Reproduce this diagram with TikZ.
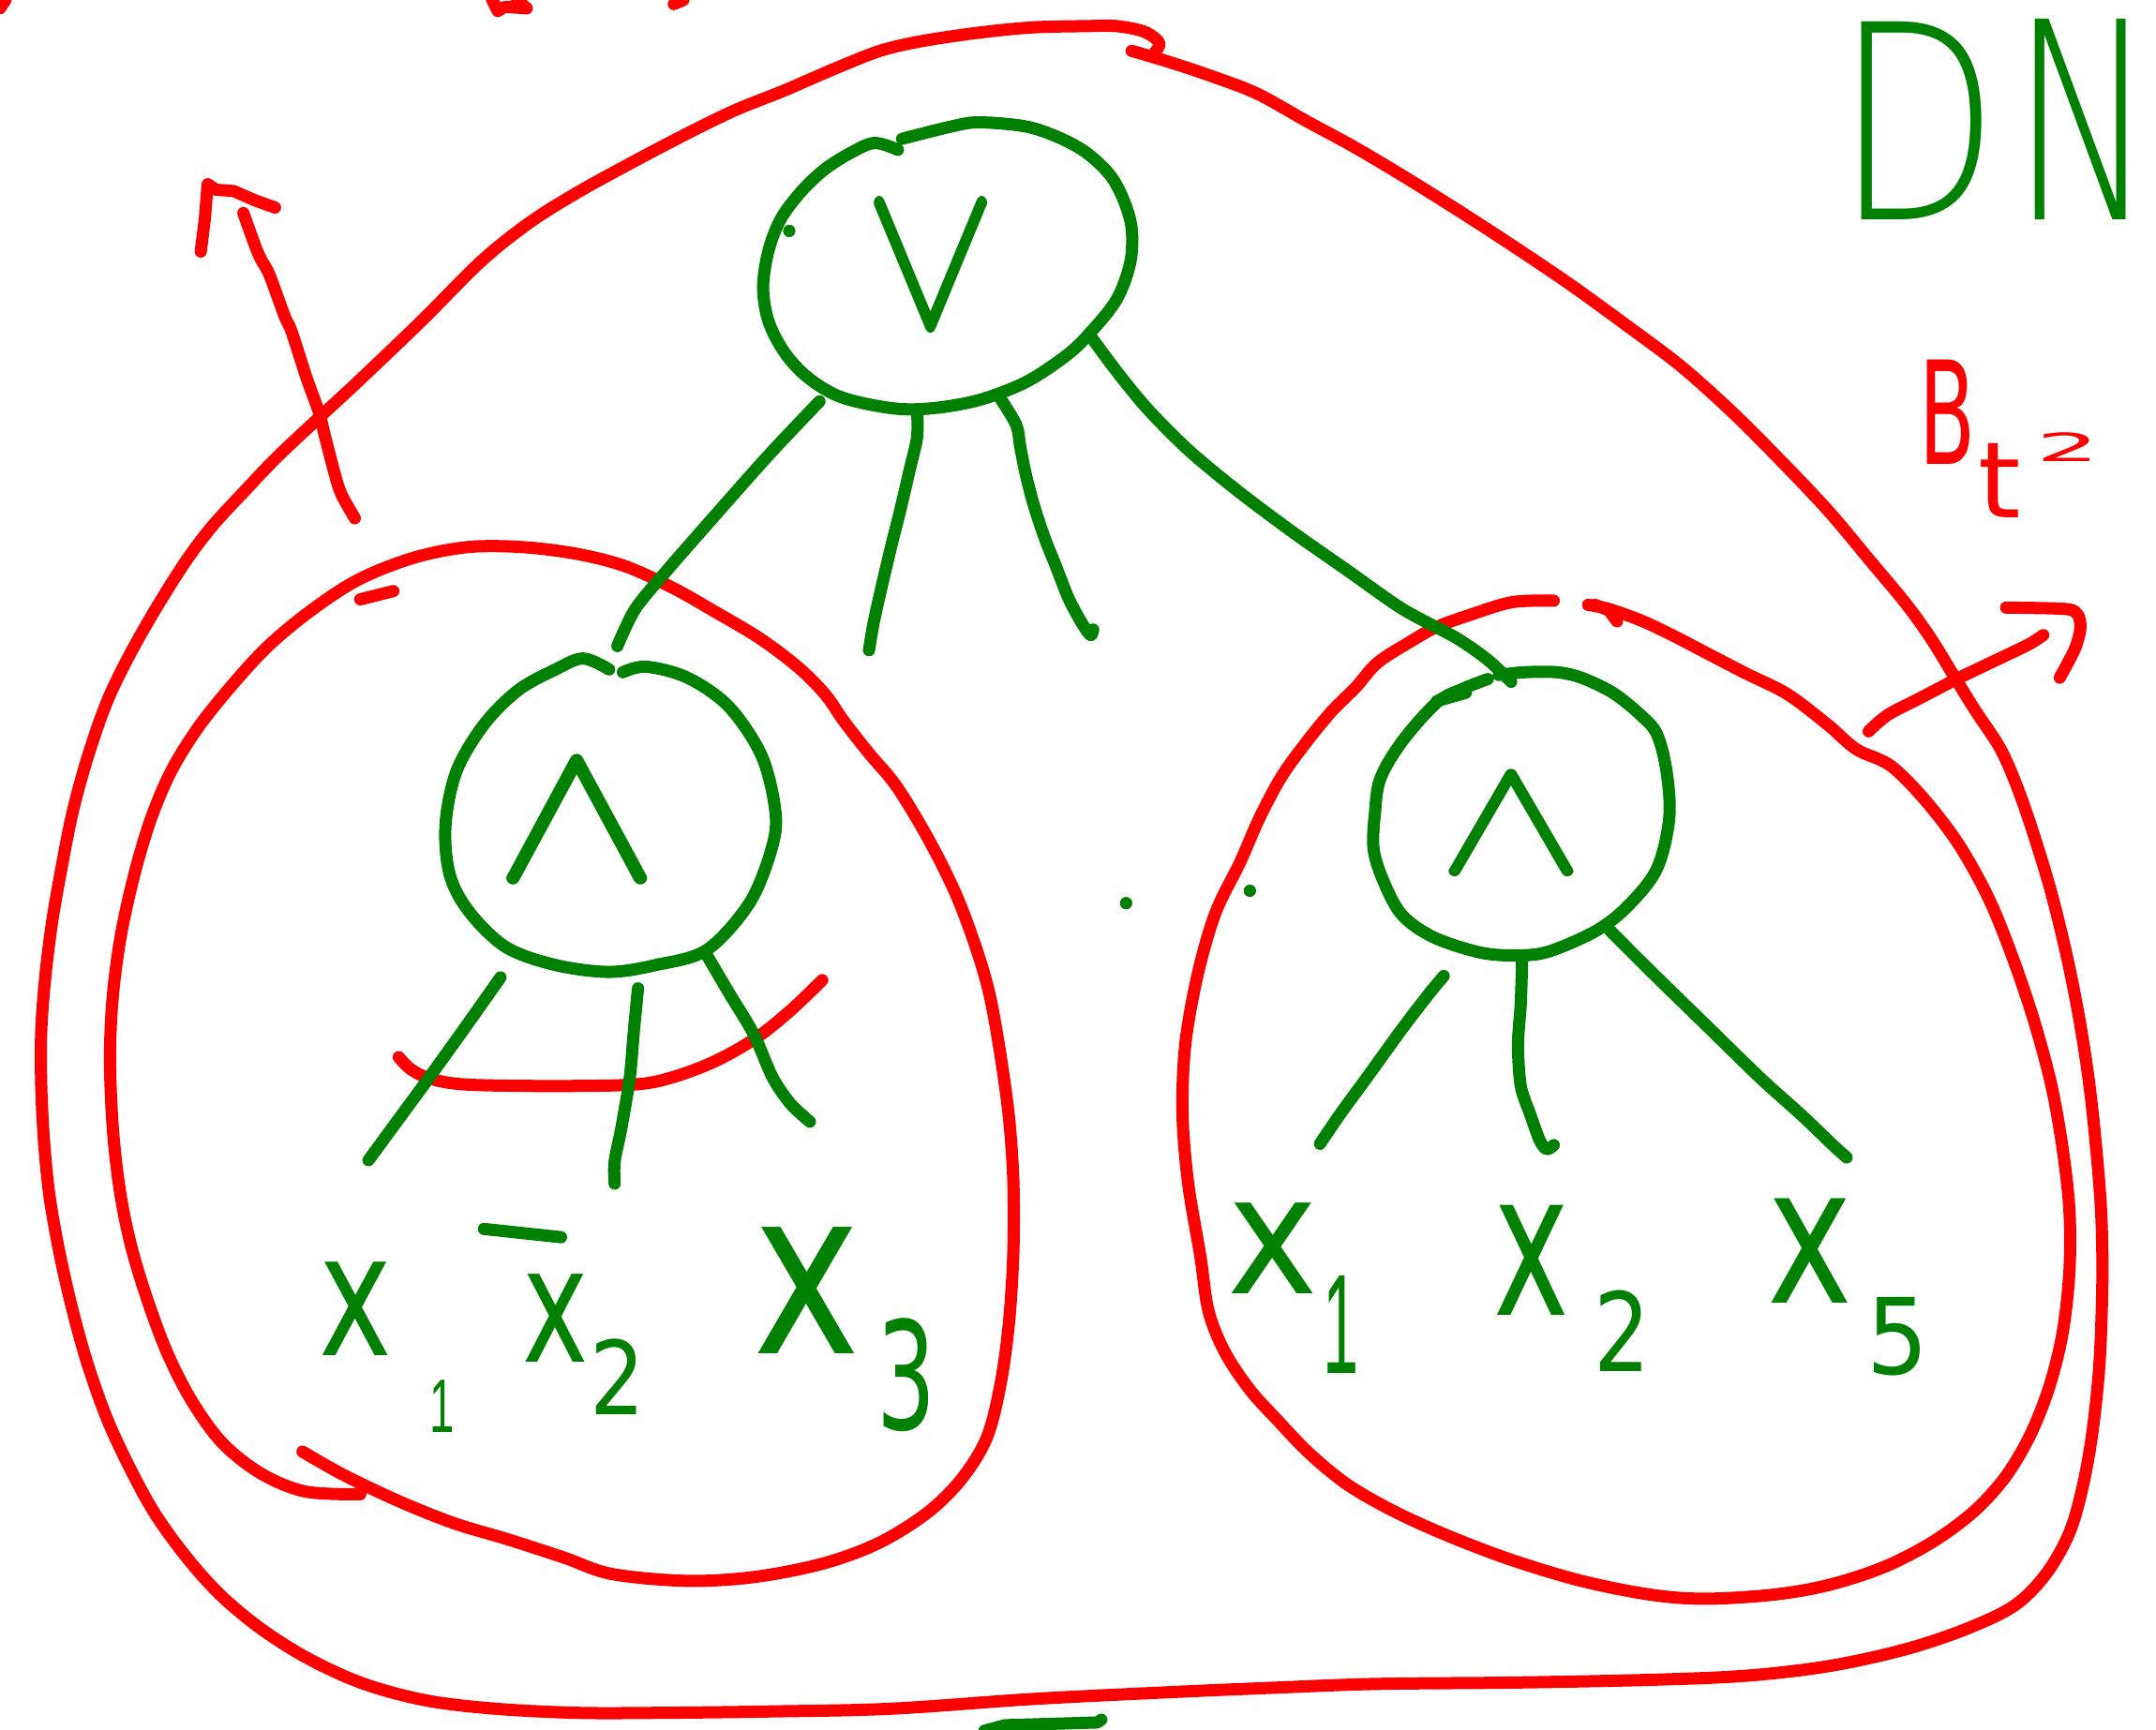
\documentclass[tikz,border=0pt]{standalone}
\usepackage{fontspec}
\setmainfont{DejaVu Sans}
\IfFontExistsTF{DejaVu Sans ExtraLight}
  {\newfontfamily\thinfont{DejaVu Sans ExtraLight}}
  {\newfontfamily\thinfont{DejaVu Sans}}
\newfontfamily\onefont{Liberation Sans}
\usepackage{graphicx}
\newlength\pu
\setlength\pu{0.014668cm}
\definecolor{penred}{RGB}{255,0,0}
\definecolor{pengreen}{RGB}{0,128,0}
\newcommand\fitg[3]{\resizebox{#1\pu}{#2\pu}{#3}}
\tikzset{
  redpen/.style={draw=penred, line width=3.7pt, line cap=round, line join=round},
  greenpen/.style={draw=pengreen, line width=3.7pt, line cap=round, line join=round},
  glyph/.style={inner sep=0pt, outer sep=0pt, text=pengreen},
  redglyph/.style={inner sep=0pt, outer sep=0pt, text=penred},
}
\begin{document}
\begin{tikzpicture}[x=\pu, y=-\pu]
\fill[white] (0,0) rectangle (1568,1258);
\useasboundingbox (0,0) rectangle (1568,1258);

% ---------------- red: outer loop ----------------
\draw[redpen] plot[smooth, tension=0.55] coordinates {
 (840,38) (843,31) (832,23) (812,19) (790,19) (750,20) (710,24) (670,30) (640,37)
 (607,50) (570,66) (535,80) (500,97) (460,118) (420,140) (385,162) (350,190)
 (307,233) (261,277) (234,302) (202,332) (180,355) (155,382) (136,407) (115,440)
 (95,475) (78,510) (64,550) (53,590) (45,630) (38,670) (33,710) (30,750) (30,790)
 (32,830) (36,870) (43,910) (52,950) (63,990) (77,1030) (93,1065) (112,1100)
 (135,1132) (160,1160) (190,1185) (225,1207) (265,1225) (310,1237) (360,1243)
 (420,1246) (480,1246) (560,1245) (648,1243) (750,1236) (850,1231) (920,1228)
 (1000,1225) (1100,1224) (1200,1222) (1270,1219) (1330,1212) (1385,1200)
 (1430,1185) (1465,1168) (1488,1145) (1505,1115) (1515,1080) (1522,1040)
 (1527,990) (1529,930) (1528,880) (1524,830) (1519,785) (1512,740) (1503,695)
 (1492,650) (1480,610) (1468,575) (1455,545) (1436,516) (1420,490) (1404,464)
 (1386,439) (1361,409) (1330,372) (1295,335) (1260,300) (1222,266) (1182,236)
 (1142,207) (1102,180) (1062,154) (1022,129) (985,107) (950,88) (914,68)
 (880,55) (850,45) (823,37)};

% ---------------- red: left inner loop ----------------
\draw[redpen] plot[smooth, tension=0.55] coordinates {
 (220,1056) (250,1073) (290,1092) (330,1108) (370,1120) (410,1133) (445,1145)
 (500,1150) (550,1147) (600,1137) (640,1122) (675,1100) (700,1075) (718,1045)
 (728,1005) (734,960) (737,910) (737,860) (734,815) (728,770) (720,725) (710,690)
 (695,650) (675,610) (652,572) (632,548) (614,525) (600,505) (580,485) (552,464)
 (520,445) (490,428) (455,412) (420,403) (380,398) (340,398) (300,406) (260,422)
 (225,445) (195,470) (170,497) (145,528) (125,560) (110,595) (98,635) (88,680)
 (82,725) (80,770) (82,820) (87,865) (95,905) (107,945) (122,985) (140,1020)
 (162,1050) (190,1072) (222,1085) (262,1087)};
\draw[redpen] (262,436) -- (286,430);

% ---------------- red: right inner loop ----------------
\draw[redpen] plot[smooth, tension=0.55] coordinates {
 (1130,437) (1100,438) (1070,447) (1045,456) (1027,466) (1002,482) (986,500)
 (968,518) (950,540) (932,565) (916,595) (902,627) (884,664) (871,709) (862,760)
 (860,810) (864,860) (873,914) (879,954) (891,984) (909,1011) (928,1032) (952,1057)
 (980,1080) (1015,1100) (1055,1118) (1100,1135) (1150,1150) (1200,1160) (1240,1163)
 (1290,1160) (1330,1153) (1370,1140) (1405,1122) (1435,1100) (1458,1075) (1476,1045)
 (1490,1010) (1500,970) (1505,925) (1505,880) (1500,835) (1492,790) (1480,745)
 (1465,700) (1447,655) (1425,615) (1400,582) (1375,557) (1350,545) (1329,527)
 (1300,505) (1270,490) (1241,475) (1220,464) (1195,452) (1170,443) (1155,440)};
\draw[redpen] (1160,440) -- (1170,444) -- (1176,452);

% ---------------- red: line under left AND ----------------
\draw[redpen] plot[smooth, tension=0.55] coordinates {
 (290,769) (299,778) (314,785) (340,789) (400,790) (460,789) (488,784) (520,772)
 (550,755) (575,735) (598,713)};

% ---------------- red: arrows ----------------
\draw[redpen] plot[smooth, tension=0.5] coordinates {
 (258,377) (248,359) (243,343) (236,316) (232,300) (223,275) (212,241) (207,230)
 (196,200) (190,189) (186,180) (177,155)};
\draw[redpen] (146,183) -- (149,159) -- (151,134) -- (157,138) -- (170,139)
  -- (186,146) -- (200,151);
\draw[redpen] plot[smooth, tension=0.5] coordinates {
 (1359,532) (1373,520) (1398,507) (1423,494) (1450,481) (1475,469) (1486,462)};
\draw[redpen] plot[smooth, tension=0.5] coordinates {
 (1459,442) (1502,443) (1511,447) (1513,457) (1509,472) (1498,493)};

% ---------------- red: fragments at the top edge ----------------
\draw[redpen] (0,6) -- (4,0);
\draw[redpen] (358,0) -- (362,8) -- (367,5) -- (383,6);
\draw[redpen] (376,0) -- (383,6);
\draw[redpen] (490,3) -- (497,0);

% ---------------- red: label B_t^2 ----------------
\node[redglyph] (lblB) at (1416.5,300) {\fitg{41}{76}{B}};
\node[redglyph] (lblt) at (1454.5,350) {\fitg{31}{54}{t}};
\node[redglyph] (lbl2) at (1504,325.5) {\fitg{46}{21}{2}};

% ---------------- green: DN ----------------
\node[glyph] (lblD) at (1395,88) {\fitg{119}{144}{\thinfont D}};
\node[glyph] (lblN) at (1515,87) {\fitg{104}{146}{\thinfont N}};

% ---------------- green: OR node ----------------
\draw[greenpen] plot[smooth, tension=0.55] coordinates {
 (653,109) (636,104) (619,111) (600,123) (583,139) (568,159) (559,182) (555,209)
 (559,234) (571,257) (588,275) (612,289) (649,297) (678,297) (712,291) (746,278)
 (775,259) (792,243) (812,218) (822,191) (823,166) (817,145) (807,127) (790,111)
 (770,100) (746,92) (712,89) (692,92) (656,101)};
\fill[pengreen] (574,168) circle (4.5);
\node[glyph] (orsym) at (677,195) {\fitg{99}{89}{\boldmath$\vee$}};
\coordinate (or-sw) at (596,292);
\coordinate (or-s)  at (667,298);
\coordinate (or-se) at (727,289);
\coordinate (or-e)  at (792,243);

% ---------------- green: left AND node ----------------
\draw[greenpen] plot[smooth, tension=0.55] coordinates {
 (443,487) (424,479) (404,487) (377,502) (352,527) (332,561) (324,600) (327,636)
 (341,663) (368,689) (404,702) (443,707) (477,702) (514,691) (545,657) (561,618)
 (564,591) (554,550) (530,514) (500,493) (470,485) (453,489)};
\node[glyph] (andL) at (420,598.5) {\fitg{123}{85}{\boldmath$\wedge$}};
\coordinate (andL-n)  at (449,470);
\coordinate (andL-sw) at (364,711);
\coordinate (andL-s)  at (464,719);
\coordinate (andL-se) at (513,693);

% ---------------- green: right AND node ----------------
\draw[greenpen] plot[smooth, tension=0.55] coordinates {
 (1082,494) (1064,501) (1045,511) (1020,539) (1004,566) (1000,591) (999,618)
 (1007,643) (1020,666) (1043,682) (1077,693) (1104,695) (1127,692) (1161,677)
 (1184,659) (1205,632) (1214,595) (1212,561) (1205,534) (1193,520) (1173,504)
 (1150,493) (1132,489) (1109,489) (1090,491)};
\draw[greenpen] (1045,510) -- (1066,504);
\node[glyph] (andR) at (1099,601) {\fitg{109}{70}{\boldmath$\wedge$}};
\coordinate (andR-n)  at (1099,496);
\coordinate (andR-sw) at (1050,710);
\coordinate (andR-s)  at (1107,698);
\coordinate (andR-se) at (1171,677);

% ---------------- green: edges from OR ----------------
\coordinate (eM) at (632,473);
\coordinate (eR) at (793,462);
\draw[greenpen] plot[smooth, tension=0.5] coordinates {
 (or-sw) (560,330) (520,375) (485,415) (462,443) (andL-n)};
\draw[greenpen] plot[smooth, tension=0.5] coordinates {
 (or-s) (667,318) (662,340) (655,370) (648,398) (640,432) (635,455) (eM)};
\draw[greenpen] plot[smooth, tension=0.5] coordinates {
 (or-se) (739,309) (742,325) (746,345) (752,368) (760,392) (768,412) (777,435)
 (786,452) (eR) (795,458)};
\draw[greenpen] plot[smooth, tension=0.5] coordinates {
 (or-e) (812,270) (835,298) (865,328) (900,357) (940,387) (980,415) (1020,443)
 (1059,464) (1082,480) (andR-n)};

% ---------------- green: edges from left AND ----------------
\coordinate (lA) at (268,844);
\coordinate (lB) at (447,861);
\coordinate (lC) at (589,816);
\draw[greenpen] plot[smooth, tension=0.5] coordinates {(andL-sw) (340,745) (312,784) (290,814) (lA)};
\draw[greenpen] plot[smooth, tension=0.5] coordinates {(andL-s) (461,750) (458,784) (452,820) (447,845) (lB)};
\draw[greenpen] plot[smooth, tension=0.5] coordinates {(andL-se) (530,722) (548,752) (562,784) (575,803) (lC)};

% ---------------- green: edges from right AND ----------------
\coordinate (rA) at (960,832);
\coordinate (rB) at (1125,836);
\coordinate (rC) at (1343,842);
\draw[greenpen] plot[smooth, tension=0.5] coordinates {(andR-sw) (1040,722) (1020,748) (994,784) (975,810) (rA)};
\draw[greenpen] plot[smooth, tension=0.5] coordinates {(andR-s) (1106,730) (1104,760) (1106,790) (1113,811) (1120,830) (rB) (1130,833)};
\draw[greenpen] plot[smooth, tension=0.5] coordinates {(andR-se) (1200,706) (1240,745) (1280,784) (1310,811) (1333,833) (rC)};

% ---------------- green: leaf labels, left ----------------
\node[glyph] (x1L) at (258.5,952) {\fitg{53}{68}{x}};
\node[glyph] (s1L) at (321.5,1023) {\fitg{18}{38}{\onefont 1}};
\draw[greenpen] (352,894) -- (408,900);
\node[glyph] (x2L) at (404,959) {\fitg{48}{64}{x}};
\node[glyph] (s2L) at (449,1001.5) {\fitg{40}{55}{2}};
\node[glyph] (x3L) at (587,939) {\fitg{78}{92}{x}};
\node[glyph] (s3L) at (659.5,1000.5) {\fitg{43}{81}{3}};

% ---------------- green: leaf labels, right ----------------
\node[glyph] (x1R) at (926,908) {\fitg{66}{66}{x}};
\node[glyph] (s1R) at (975,963.5) {\fitg{26}{71}{\onefont 1}};
\node[glyph] (x2R) at (1113.5,917) {\fitg{55}{80}{x}};
\node[glyph] (s2R) at (1179.5,968.5) {\fitg{41}{59}{2}};
\node[glyph] (x5R) at (1316.5,910) {\fitg{62}{76}{x}};
\node[glyph] (s5R) at (1380.5,972) {\fitg{45}{56}{5}};

% ---------------- green: stray marks ----------------
\fill[pengreen] (819,657) circle (4.5);
\fill[pengreen] (909,648) circle (4.5);
\draw[greenpen] (716,1259) -- (731,1255) -- (798,1253) -- (801,1251);
\end{tikzpicture}
\end{document}
